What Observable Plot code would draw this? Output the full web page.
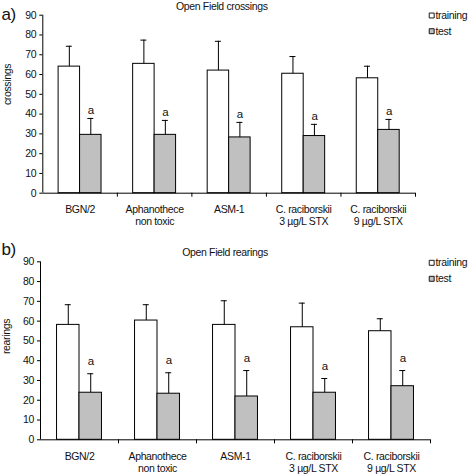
<!DOCTYPE html>
<html>
<head>
<meta charset="utf-8">
<script src="https://cdn.jsdelivr.net/npm/d3@7"></script>
<script src="https://cdn.jsdelivr.net/npm/@observablehq/plot@0.6"></script>
<style>
html, body { margin: 0; padding: 0; background: #fff; }
#chart svg { display: block; }
#chart svg text { letter-spacing: -0.35px; }
</style>
</head>
<body>
<div id="chart"></div>
<script>
// ---- data ----
const categories = ["BGN/2", "Aphanothece\nnon toxic", "ASM-1", "C. raciborskii\n3 µg/L STX", "C. raciborskii\n9 µg/L STX"];
const seriesNames = ["training", "test"];
const yTicks = [0, 10, 20, 30, 40, 50, 60, 70, 80, 90];

const crossingsTraining    = [64.0, 65.4, 62.0, 60.4, 58.1];
const crossingsTrainingErr = [10.3, 12.0, 14.8, 8.7, 6.1];
const crossingsTest        = [29.5, 29.5, 28.2, 28.9, 32.0];
const crossingsTestErr     = [8.3, 7.3, 7.6, 5.9, 5.3];

const rearingsTraining     = [58.1, 60.3, 58.1, 56.9, 54.9];
const rearingsTrainingErr  = [10.2, 8.0, 12.2, 12.2, 6.3];
const rearingsTest         = [23.8, 23.3, 21.9, 23.8, 27.1];
const rearingsTestErr      = [9.6, 10.6, 13.1, 7.2, 7.9];

const sigLetter = "a";

// ---- drawing ----
const FONT = "'Liberation Sans', Arial, Helvetica, sans-serif";
const FS = 10.5;
const GREY = "#c0c0c0";

function panel(cfg) {
  const width = 472;
  const {ml, mr, mt, mb, height} = cfg;
  const bw = (width - ml - mr) / categories.length;
  const barW = bw * 0.288;
  const cap = 3;
  const rows = categories.map((c, i) => ({
    cat: c,
    tr: cfg.training[i], trTop: cfg.training[i] + cfg.trainingErr[i],
    te: cfg.test[i], teTop: cfg.test[i] + cfg.testErr[i]
  }));
  const at = (absX, localY) => ({frameAnchor: "top-left", dx: absX - ml, dy: localY - mt});
  const plotH = height - mt - mb;
  return Plot.plot({
    width, height,
    marginLeft: ml, marginRight: mr, marginTop: mt, marginBottom: mb,
    style: {fontFamily: FONT, fontSize: FS + "px", color: "#111", background: "#fff"},
    x: {type: "band", domain: categories, padding: 0, round: false},
    y: {domain: [0, 90]},
    marks: [
      Plot.barY(rows, {x: "cat", y: "tr", fill: "white", stroke: "#000", strokeWidth: 1,
        insetLeft: bw / 2 - barW, insetRight: bw / 2}),
      Plot.barY(rows, {x: "cat", y: "te", fill: GREY, stroke: "#000", strokeWidth: 1,
        insetLeft: bw / 2, insetRight: bw / 2 - barW}),
      Plot.ruleX(rows, {x: "cat", y1: "tr", y2: "trTop", dx: -barW / 2, stroke: "#000"}),
      Plot.ruleX(rows, {x: "cat", y1: "te", y2: "teTop", dx: barW / 2, stroke: "#000"}),
      Plot.tickY(rows, {x: "cat", y: "trTop", stroke: "#000",
        insetLeft: bw / 2 - barW / 2 - cap, insetRight: bw / 2 + barW / 2 - cap}),
      Plot.tickY(rows, {x: "cat", y: "teTop", stroke: "#000",
        insetLeft: bw / 2 + barW / 2 - cap, insetRight: bw / 2 - barW / 2 - cap}),
      Plot.text(rows, {x: "cat", y: "teTop", text: () => sigLetter, dx: barW / 2, dy: cfg.aDy,
        lineAnchor: "middle", fontSize: 11.5, fill: "#111"}),
      Plot.ruleY([0], {stroke: "#000"}),
      Plot.ruleX([categories[0]], {x: d => d, dx: -bw / 2, stroke: "#000"}),
      Plot.ruleX(categories, {x: d => d, dx: bw / 2, stroke: "#000", insetTop: plotH, insetBottom: -4}),
      Plot.axisY({ticks: yTicks, tickSize: 3, tickPadding: 3.5, label: null, fontSize: FS, stroke: "#000"}),
      Plot.axisX({tickSize: 0, tickPadding: 11.5, label: null, fontSize: FS, lineHeight: 1.15}),
      Plot.text([cfg.yLabel], {...at(cfg.yLabelX, cfg.yLabelY), rotate: -90, textAnchor: "middle",
        lineAnchor: "middle", fontSize: FS, fill: "#111"}),
      Plot.text([cfg.title], {...at(cfg.titleX, cfg.titleY), textAnchor: "middle",
        lineAnchor: "middle", fontSize: FS, fill: "#111"}),
      Plot.text([cfg.letter], {...at(1, cfg.letterY), textAnchor: "start",
        lineAnchor: "middle", fontSize: 17, fill: "#111"}),
      Plot.dot([seriesNames[0]], {...at(431.2, cfg.legendY[0]), symbol: "square", r: 2.8,
        fill: "white", stroke: "#000", strokeWidth: 0.9}),
      Plot.dot([seriesNames[1]], {...at(431.2, cfg.legendY[1]), symbol: "square", r: 2.8,
        fill: GREY, stroke: "#000", strokeWidth: 0.9}),
      Plot.text([seriesNames[0]], {...at(435, cfg.legendY[0]), textAnchor: "start",
        lineAnchor: "middle", fontSize: FS, fill: "#111"}),
      Plot.text([seriesNames[1]], {...at(435, cfg.legendY[1]), textAnchor: "start",
        lineAnchor: "middle", fontSize: FS, fill: "#111"})
    ]
  });
}

const panelA = panel({
  title: "Open Field crossings", letter: "a)", yLabel: "crossings",
  training: crossingsTraining, trainingErr: crossingsTrainingErr,
  test: crossingsTest, testErr: crossingsTestErr,
  height: 237, ml: 42.3, mr: 57, mt: 14.7, mb: 44.3,
  yLabelX: 7, yLabelY: 84, titleX: 221.3, titleY: 6.5, letterY: 14,
  legendY: [15, 30.7], aDy: -8.5
});
const panelB = panel({
  title: "Open Field rearings", letter: "b)", yLabel: "rearings",
  training: rearingsTraining, trainingErr: rearingsTrainingErr,
  test: rearingsTest, testErr: rearingsTestErr,
  height: 238, ml: 40, mr: 42, mt: 24.3, mb: 35.7,
  yLabelX: 6.5, yLabelY: 99, titleX: 224.5, titleY: 15.5, letterY: 12.5,
  legendY: [25.3, 41.3], aDy: -12.5
});
document.getElementById("chart").append(panelA, panelB);
</script>
</body>
</html>
